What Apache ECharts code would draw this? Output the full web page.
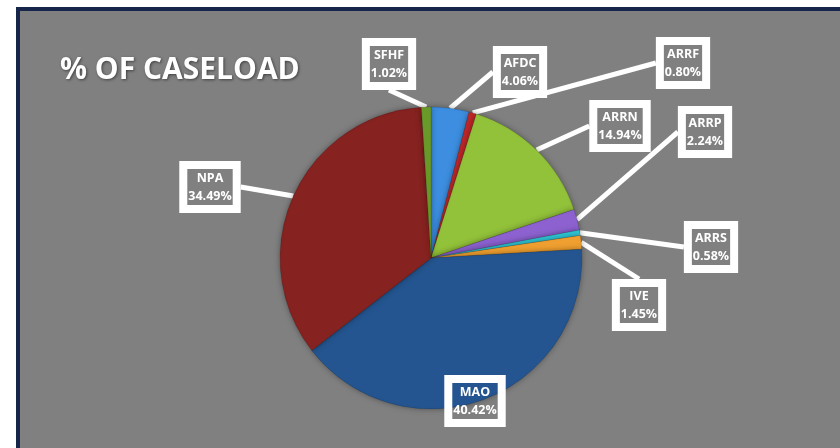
<!DOCTYPE html>
<html><head><meta charset="utf-8">
<script src="https://cdn.jsdelivr.net/npm/echarts@6/dist/echarts.min.js"></script>
<style>html,body{margin:0;padding:0;background:#fff}#c{width:840px;height:448px}</style>
</head><body><div id="c"></div>
<script>
const categories = ['AFDC','ARRF','ARRN','ARRP','ARRS','IVE','MAO','NPA','SFHF'];
const values = [4.06, 0.80, 14.94, 2.24, 0.58, 1.45, 40.42, 34.49, 1.02];
const colors = ['#3d8ee0','#c0282a','#92c13a','#8d62d0','#30c8d8','#f0a030','#245590','#862220','#6a9a2a'];
const labelPos = {
  AFDC:[520,72], ARRF:[683,63], ARRN:[620,126], ARRP:[705,132], ARRS:[711,247],
  IVE:[639,305], MAO:[475,401], NPA:[210,187], SFHF:[389,64]
};
const chart = echarts.init(document.getElementById('c'), null, {renderer:'canvas'});
const data = categories.map((n,i)=>({
  name:n, value:values[i],
  itemStyle:{color:colors[i]},
  labelLine:{show: n!=='MAO'}
}));
chart.setOption({
  backgroundColor:'#ffffff',
  animation:false,
  graphic:[{
    type:'rect', z:-10,
    shape:{x:18, y:9, width:840, height:446},
    style:{fill:'#808080', stroke:'#16264a', lineWidth:4}
  }],
  title:{
    text:'% OF CASELOAD', left:55, top:50,
    textStyle:{color:'#ffffff', fontSize:30, fontWeight:'bold', fontFamily:'Open Sans',
      textShadowColor:'rgba(0,0,0,0.5)', textShadowBlur:3, textShadowOffsetX:1, textShadowOffsetY:1}
  },
  series:[{
    type:'pie', center:[431,258], radius:151, startAngle:90, clockwise:true,
    data:data,
    itemStyle:{borderColor:'rgba(0,0,0,0.25)', borderWidth:0.5, shadowBlur:6, shadowColor:'rgba(0,0,0,0.35)'},
    label:{
      show:true,
      formatter:function(p){ return p.name + '\n' + p.value.toFixed(2) + '%'; },
      color:'#ffffff', fontSize:12.5, fontWeight:'bold', fontFamily:'Open Sans', lineHeight:18,
      backgroundColor:'transparent', borderColor:'#ffffff', borderWidth:4,
      padding:[5,5,3,5], align:'center'
    },
    labelLine:{show:true, length:0, length2:0, lineStyle:{color:'#ffffff', width:5}},
    labelLayout:function(p){
      const n = categories[p.dataIndex];
      const pos = labelPos[n];
      return {x:pos[0], y:pos[1], align:'center', verticalAlign:'middle'};
    }
  }]
});
</script></body></html>
